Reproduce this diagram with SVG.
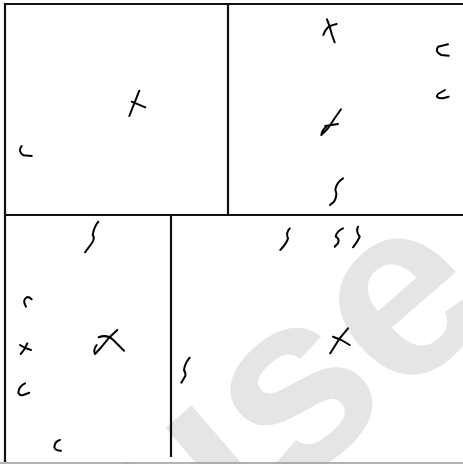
<svg xmlns="http://www.w3.org/2000/svg" width="463" height="464" viewBox="0 0 463 464">
<style>
.wall{stroke:#111;stroke-width:2.2;fill:none}
.mark{stroke:#000;stroke-width:2;fill:none;stroke-linecap:round;stroke-linejoin:round}
.wm{font-family:"Liberation Sans",Arial,sans-serif;font-weight:bold;font-size:250px;fill:#e5e5e5}
</style>
<rect width="463" height="464" fill="#fff"/>
<text class="wm" x="0" y="0" transform="translate(176,594) rotate(-41)">use</text>
<g id="walls">
<line class="wall" x1="5" y1="4" x2="463" y2="4"/>
<line class="wall" x1="5" y1="3" x2="5" y2="462"/>
<line class="wall" x1="228" y1="4" x2="228" y2="215"/>
<line class="wall" x1="5" y1="215" x2="463" y2="215"/>
<line class="wall" x1="171" y1="215" x2="171" y2="457"/>
<line x1="0" y1="463" x2="463" y2="463" stroke="#999" stroke-width="1.5"/>
</g>
<g id="marks">
<path class="mark" d="M139.3,90.7 L129.3,116 M131.7,101.7 L145.3,107.3"/>
<path class="mark" d="M21.7,146 Q17.5,151 23.3,155.3 L31.7,156"/>
<path class="mark" d="M327,19.3 L329.7,26.7 L332,35 L334.7,42.3 M323.3,35 Q325,30 328,27.3 Q331,25 336.7,24"/>
<path class="mark" d="M448,44.3 L438,46.7 Q434.5,52 441.3,55 L448.7,55.7"/>
<path class="mark" d="M445,90 L438,94 Q434.5,98.5 443,98.3 L448.7,96.7"/>
<path class="mark" d="M341,109.3 L334.7,118.3 L328,128.3 L321.3,135 Q322,130 326,127 M325.3,126 L331.3,125 L338,124"/>
<path class="mark" d="M343,178.3 Q336,183 335.3,190 Q338,195 334,201.7 L330,205"/>
<path class="mark" d="M98.3,221.7 Q94,227 92.7,235 Q96,238.5 89.3,246.7 L85,252.3"/>
<path class="mark" d="M26,306.7 Q22,300 26.7,297.3 Q29.5,296.5 31.7,299.3"/>
<path class="mark" d="M20,345 Q25,348.3 31,350 M27.3,343.3 Q24.5,350 20.7,354"/>
<path class="mark" d="M117.3,330 L110,336.7 L101.7,346.7 L95,354 Q93,350 96.7,345 M98.7,337.3 Q107,334 113.3,340 L124,350.7"/>
<path class="mark" d="M25,383.3 Q19,386 18.3,392.7 Q20,396 23.3,395 L29.3,392.7"/>
<path class="mark" d="M60,440 Q55,441 54.3,447.3 Q55.5,451 61,450.7"/>
<path class="mark" d="M289.7,228.3 Q285.5,233 288,238.3 Q287,243 280.3,250"/>
<path class="mark" d="M343,228.3 Q336.5,231 335.7,236.7 Q340,239 338,243.3 L334.7,246.7"/>
<path class="mark" d="M358,226.7 Q355.5,231 359.7,236.7 Q358,241 353,247.3"/>
<path class="mark" d="M348,328.3 L339.7,338.3 L330.3,353.3 M333,336.7 L341.3,340 L349.7,345"/>
<path class="mark" d="M189.7,357.7 Q185,363 184,370 Q186,374 185.3,376 L181.3,382.7"/>
</g>
</svg>
